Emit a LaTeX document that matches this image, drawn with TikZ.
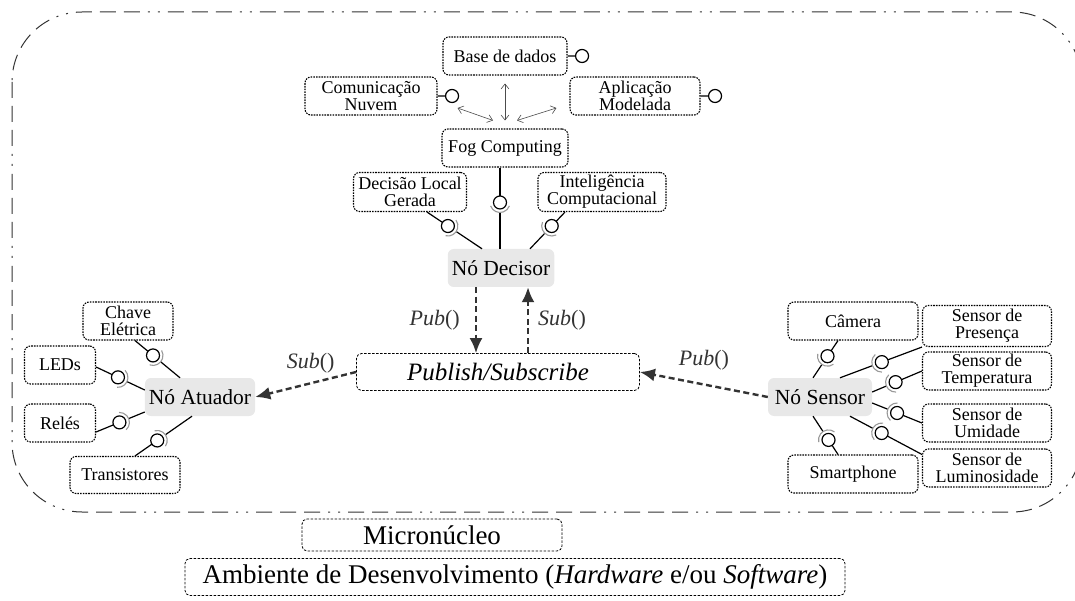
\documentclass[tikz,border=0pt]{standalone}
\usepackage{fontspec}
\setmainfont{LiberationSerif}[Extension=.ttf, UprightFont=*-Regular, ItalicFont=*-Italic, BoldFont=*-Bold, BoldItalicFont=*-BoldItalic]
\usetikzlibrary{arrows.meta,calc,positioning}

\newcommand{\compfont}{\fontsize{18}{17}\selectfont}
\newcommand{\hubfont}{\fontsize{21.5}{24}\selectfont}
\newcommand{\lblfont}{\fontsize{22}{24}\selectfont}
\newcommand{\busfont}{\fontsize{25}{28}\selectfont\itshape}
\newcommand{\basefont}{\fontsize{27}{30}\selectfont}

\newcommand{\iface}[3]{%
  \path (#1) coordinate (ifa) (#2) coordinate (ifb);
  \path (ifa) -- (ifb) coordinate[pos=#3] (ifc);
  \draw[link] (ifa) -- ($(ifc)!6.5pt!(ifa)$);
  \draw[link] ($(ifc)!10pt!(ifb)$) -- (ifb);
  \draw[link, fill=white] (ifc) circle[radius=6.5pt];
  \draw[sock] let \p1=($(ifb)-(ifc)$), \n1={atan2(\y1,\x1)} in
    ($(ifc)+(\n1-70:10pt)$) arc[start angle=\n1-70, end angle=\n1+70, radius=10pt];
}

\begin{document}
\begin{tikzpicture}[
    x=1pt, y=-1pt,
    comp/.style={draw, line width=1.1pt, dash pattern=on 1.6pt off 1.1pt, rounded corners=6pt, align=center, font=\compfont, inner sep=2pt},
    hub/.style={fill=black!9, rounded corners=6pt, font=\hubfont, minimum height=38, inner xsep=4pt},
    bus/.style={draw, line width=0.8pt, dash pattern=on 2.5pt off 1.5pt, rounded corners=5pt, inner ysep=1pt},
    link/.style={line width=1.2pt},
    sock/.style={gray!80, line width=1.1pt},
    dbl/.style={{Straight Barb[length=5pt,width=8pt]}-{Straight Barb[length=5pt,width=8pt]}, line width=0.6pt, black!70},
    msg/.style={-{Latex[length=15pt,width=13pt]}, line width=2.4pt, dash pattern=on 6pt off 3.5pt, black!80},
    lbl/.style={font=\lblfont, inner sep=1pt},
    frame/.style={line width=1pt, black!80, rounded corners=70pt, dash pattern=on 16pt off 8pt on 16pt off 8pt on 16pt off 8pt on 2pt off 8pt on 2pt off 8pt}
]
\useasboundingbox (0,0) rectangle (1075,601);
\draw[frame] (12,12) rectangle (1082,512);

\node[comp, minimum width=124, minimum height=38] (base) at (505,56) {Base de dados};
\node[comp, minimum width=132, minimum height=38] (nuvem) at (371,96) {Comunicação\\Nuvem};
\node[comp, minimum width=130, minimum height=38] (modelada) at (635,96) {Aplicação\\Modelada};
\node[comp, minimum width=126, minimum height=38] (fog) at (505,148) {Fog Computing};
\node[comp, minimum width=113, minimum height=39] (decloc) at (410,192) {Decisão Local\\Gerada};
\node[comp, minimum width=128, minimum height=39] (intel) at (602,192) {Inteligência\\Computacional};
\node[hub, minimum width=106] (decisor) at (501,268) {Nó Decisor};

\node[bus, minimum width=283, minimum height=37, font=\busfont] (pubsub) at (498,372) {Publish/Subscribe};

\node[hub, minimum width=108] (atuador) at (200,397) {Nó Atuador};
\node[comp, minimum width=90, minimum height=38] (chave) at (128,321) {Chave\\Elétrica};
\node[comp, minimum width=71, minimum height=38] (leds) at (60,365) {LEDs};
\node[comp, minimum width=71, minimum height=38] (reles) at (60,423) {Relés};
\node[comp, minimum width=110, minimum height=37] (transis) at (125,475) {Transistores};

\node[hub, minimum width=104] (sensor) at (820,397) {Nó Sensor};
\node[comp, minimum width=130, minimum height=38] (camera) at (853,321) {Câmera};
\node[comp, minimum width=130, minimum height=38] (smart) at (853,474) {Smartphone};
\node[comp, minimum width=129, minimum height=41] (pres) at (987,326) {Sensor de\\Presença};
\node[comp, minimum width=129, minimum height=38] (temp) at (987,371) {Sensor de\\Temperatura};
\node[comp, minimum width=129, minimum height=38] (umid) at (987,423) {Sensor de\\Umidade};
\node[comp, minimum width=129, minimum height=38] (lum) at (987,468) {Sensor de\\Luminosidade};

\node[bus, minimum width=260, minimum height=32, font=\basefont] (micro) at (432,535) {Micronúcleo};
\node[bus, minimum width=660, minimum height=37, font=\basefont] (amb) at (515,577) {Ambiente de Desenvolvimento (\textit{Hardware} e/ou \textit{Software})};

\draw[link] (base.east) -- ++(8,0) ++(6.5,0) circle[radius=6.5pt];
\draw[link] (nuvem.east) -- ++(8,0) ++(6.5,0) circle[radius=6.5pt];
\draw[link] (modelada.east) -- ++(8,0) ++(6.5,0) circle[radius=6.5pt];

\draw[dbl, shorten <=8pt, shorten >=8pt] (base.south) -- (fog.north);
\draw[dbl] ([shift={(20,12)}]nuvem.east) -- ([shift={(-12,-8)}]fog.north);
\draw[dbl] ([shift={(12,-8)}]fog.north) -- ([shift={(-13,12)}]modelada.west);

\iface{[shift={(17,0)}]decloc.south}{[shift={(-19,0)}]decisor.north}{0.38}
\iface{[shift={(-5,0)}]fog.south}{[shift={(-1,0)}]decisor.north}{0.43}
\iface{[shift={(-37,0)}]intel.south}{[shift={(29,0)}]decisor.north}{0.38}

\iface{[shift={(7,0)}]chave.south}{[shift={(-20,0)}]atuador.north}{0.4}
\iface{[shift={(0,2)}]leds.east}{[shift={(0,-7)}]atuador.west}{0.45}
\iface{[shift={(0,9)}]reles.east}{[shift={(0,15)}]atuador.west}{0.48}
\iface{[shift={(10,0)}]transis.north}{[shift={(-8,0)}]atuador.south}{0.39}

\iface{[shift={(-15,0)}]camera.south}{[shift={(-7,0)}]sensor.north}{0.42}
\iface{pres.south west}{[shift={(20,0)}]sensor.north}{0.49}
\iface{temp.west}{[shift={(0,-5)}]sensor.east}{0.53}
\iface{umid.west}{[shift={(0,6)}]sensor.east}{0.5}
\iface{[shift={(0,6)}]lum.north west}{[shift={(30,0)}]sensor.south}{0.56}
\iface{[shift={(-15,0)}]smart.north}{[shift={(-7,0)}]sensor.south}{0.38}

\draw[msg] ([shift={(-25,0)}]decisor.south) -- node[lbl, left=14pt]{\textit{Pub}()} ([shift={(-22,0)}]pubsub.north);
\draw[msg] ([shift={(30,0)}]pubsub.north) -- node[lbl, right=8pt]{\textit{Sub}()} ([shift={(27,0)}]decisor.south);
\draw[msg] (pubsub.west) -- node[lbl, above=8pt, pos=.45]{\textit{Sub}()} (atuador.east);
\draw[msg] (sensor.west) -- node[lbl, above=12pt, pos=.5]{\textit{Pub}()} (pubsub.east);
\end{tikzpicture}
\end{document}
